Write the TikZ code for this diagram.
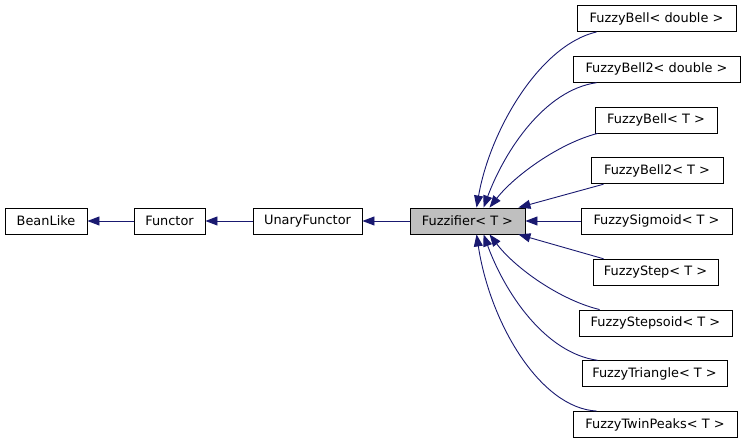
\documentclass[tikz,border=0pt]{standalone}
\usepackage{fontspec}
\setmainfont{DejaVu Sans}
\usetikzlibrary{arrows.meta,calc}
\definecolor{edgeblue}{HTML}{191970}
\definecolor{boxgray}{HTML}{BFBFBF}
\tikzset{
  cls/.style={draw=black,line width=0.9bp,fill=white,minimum height=26bp,inner sep=0pt,font=\fontsize{12.9bp}{15bp}\selectfont},
  inh/.style={draw=edgeblue,line width=0.9bp,-{Triangle[length=12bp,width=9bp,fill=edgeblue]}},
}
\begin{document}
\begin{tikzpicture}[x=1bp,y=-1bp]
\useasboundingbox (0,0) rectangle (745,443);
\node[cls,minimum width=82bp] (bean) at (46,221) {BeanLike};
\node[cls,minimum width=71bp] (func) at (169.5,221) {Functor};
\node[cls,minimum width=109bp] (unary) at (307.5,221) {UnaryFunctor};
\node[cls,minimum width=115bp,fill=boxgray] (fz) at (467.5,221) {Fuzzifier< T >};
\node[cls,minimum width=159bp] (bd) at (656.5,18.5) {FuzzyBell< double >};
\node[cls,minimum width=167bp] (btd) at (656.5,69.25) {FuzzyBell2< double >};
\node[cls,minimum width=122bp] (bt) at (656,120) {FuzzyBell< T >};
\node[cls,minimum width=132bp] (btt) at (657,170.75) {FuzzyBell2< T >};
\node[cls,minimum width=151bp] (sig) at (656.5,221) {FuzzySigmoid< T >};
\node[cls,minimum width=125bp] (step) at (655.5,272.25) {FuzzyStep< T >};
\node[cls,minimum width=153bp] (stps) at (655.5,323) {FuzzyStepsoid< T >};
\node[cls,minimum width=145bp] (tri) at (654.5,373.75) {FuzzyTriangle< T >};
\node[cls,minimum width=164bp] (twin) at (655,424.5) {FuzzyTwinPeaks< T >};

\draw[inh] (func.west) -- (bean.east);
\draw[inh] (unary.west) -- (func.east);
\draw[inh] (fz.west) -- (unary.east);
\draw[inh] (sig.west) -- (fz.east);

\draw[inh] ($(bd.south west)+(20,0)$) .. controls (540,45) and (490,130) .. ($(fz.north west)+(67,0)$);
\draw[inh] ($(btd.south west)+(24,0)$) .. controls (545,90) and (505,150) .. ($(fz.north west)+(74,0)$);
\draw[inh] ($(bt.south west)+(3,0)$) .. controls (560,143) and (515,175) .. ($(fz.north west)+(80,0)$);
\draw[inh] ($(btt.south west)+(13,0)$) -- ($(fz.north east)+(-7,0)$);
\draw[inh] ($(step.north west)+(11,0)$) -- ($(fz.south east)+(-7,0)$);
\draw[inh] ($(stps.north west)+(21,0)$) .. controls (560,300) and (515,268) .. ($(fz.south west)+(80,0)$);
\draw[inh] ($(tri.north west)+(16,0)$) .. controls (545,353) and (505,293) .. ($(fz.south west)+(74,0)$);
\draw[inh] ($(twin.north west)+(24,0)$) .. controls (540,408) and (490,323) .. ($(fz.south west)+(67,0)$);
\end{tikzpicture}
\end{document}
